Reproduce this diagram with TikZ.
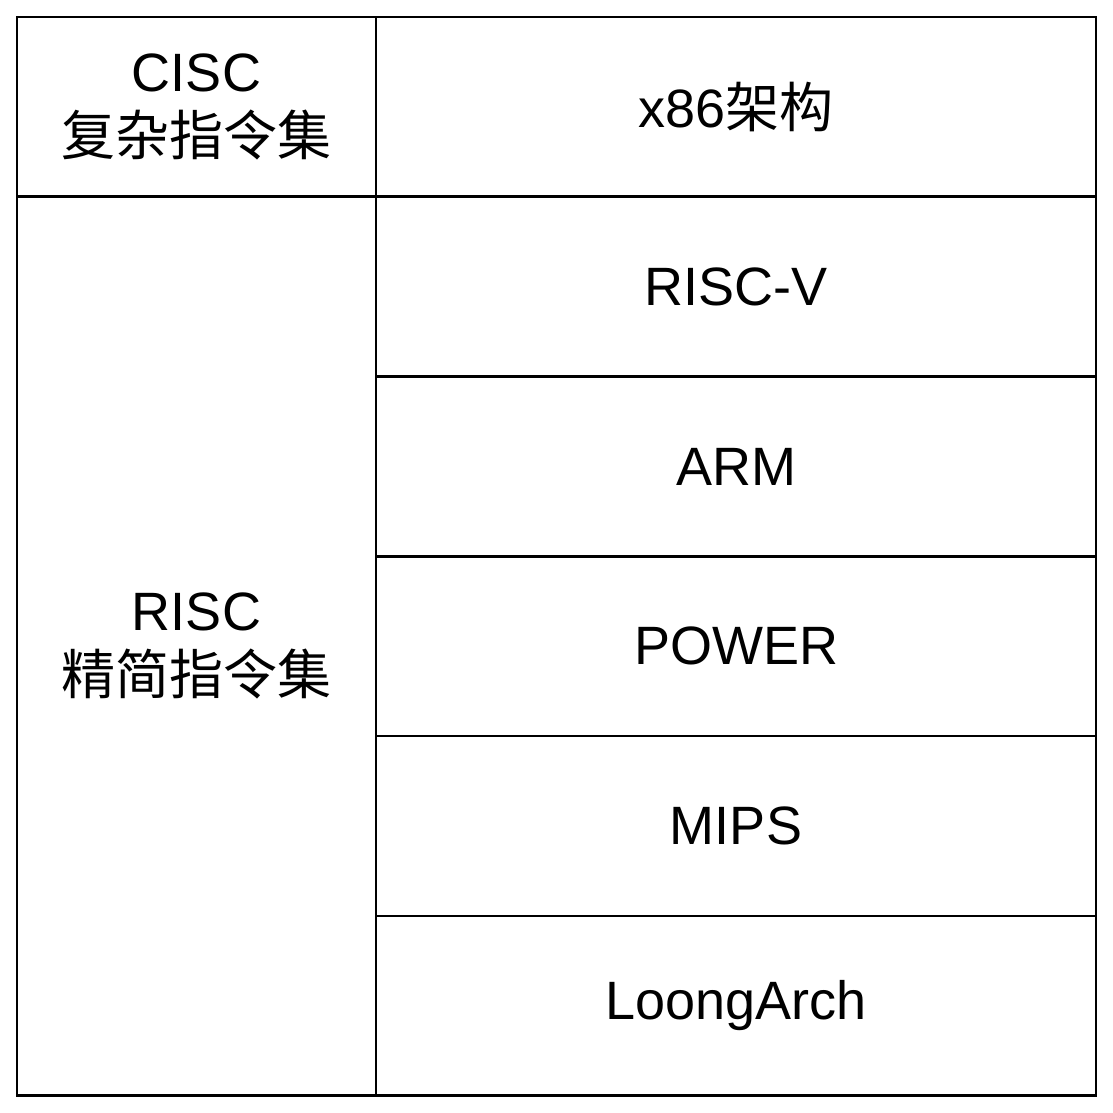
\documentclass[tikz,border=0pt]{standalone}
\usepackage{fontspec}
\setmainfont{Liberation Sans}
\newfontfamily\cjk{Noto Sans CJK SC}
\usetikzlibrary{positioning}
\tikzset {
  cell/.style = {
    draw = black,
    line width = 2.6pt,
    rectangle,
    outer sep = 0,
    inner sep = 0,
    align = center,
    minimum height = 179.8pt,
    font = \fontsize{54}{64}\selectfont
  },
  % left column: instruction set family
  family/.style = {
    cell,
    minimum width = 359pt
  },
  % right column: architecture
  arch/.style = {
    cell,
    minimum width = 720pt
  },
  node distance = 0pt
}
\begin{document}
\begin{tikzpicture}[x=1pt,y=1pt]
  \useasboundingbox (0,0) rectangle (1113,1113);
  \node[family, anchor=north west] (cisc) at (17,1096) {CISC\\{\cjk 复杂指令集}};
  \node[arch] (x86) [right=of cisc] {x86{\cjk 架构}};
  \node[arch] (riscv) [below=of x86] {RISC-V};
  \node[arch] (arm) [below=of riscv] {ARM};
  \node[arch] (power) [below=of arm] {POWER};
  \node[arch] (mips) [below=of power] {MIPS};
  \node[arch] (loong) [below=of mips] {LoongArch};
  \node[family, minimum height = 899pt, anchor=north] (risc) at (cisc.south)
    {RISC\\{\cjk 精简指令集}};
\end{tikzpicture}
\end{document}
